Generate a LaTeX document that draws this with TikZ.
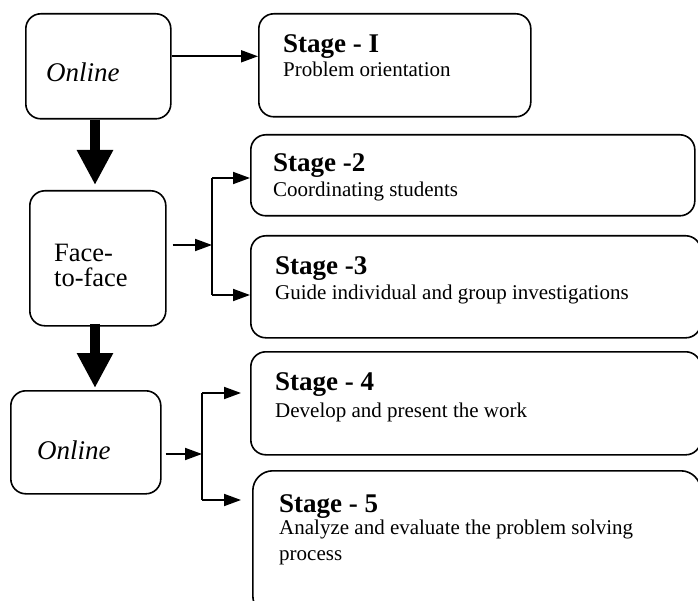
\documentclass[tikz,border=0pt]{standalone}
\usepackage{fontspec}
\setmainfont{Liberation Serif}
\usepackage{tikz}
\usetikzlibrary{arrows.meta}
\tikzset{
  modebox/.style={draw=black,line width=1.6pt,rounded corners=15pt,anchor=north west,inner sep=0pt},
  stagebox/.style={draw=black,line width=1.6pt,rounded corners=15pt,anchor=north west,inner sep=0pt},
  modetxt/.style={anchor=base west,inner sep=0pt,font=\fontsize{26.5}{26}\selectfont},
  stagehead/.style={anchor=base west,inner sep=0pt,font=\fontsize{27}{30}\selectfont\bfseries},
  stagetxt/.style={anchor=base west,inner sep=0pt,font=\fontsize{21}{26}\selectfont},
}
\tikzset{link/.style={draw=black,line width=1.8pt,-{Triangle[length=17pt,width=12pt]}},
  bigarrow/.style={draw=black,line width=10pt,-{Triangle[length=35pt,width=34pt]}}}

\begin{document}
\begin{tikzpicture}[x=1pt,y=-1pt]
\useasboundingbox (0,0) rectangle (698,601);
\node[modebox,minimum width=145pt,minimum height=105pt] (on1) at (25,13) {};
\node[modebox,minimum width=136pt,minimum height=135pt] (ff) at (29,190) {};
\node[modebox,minimum width=150pt,minimum height=103pt] (on2) at (10,390) {};
\node[stagebox,minimum width=272pt,minimum height=103pt] (s1) at (258,13) {};
\node[stagebox,minimum width=444pt,minimum height=81pt] (s2) at (250,134) {};
\node[stagebox,minimum width=450pt,minimum height=102pt] (s3) at (250,235) {};
\node[stagebox,minimum width=450pt,minimum height=103pt] (s4) at (250,351) {};
\node[stagebox,rounded corners=20pt,minimum width=448pt,minimum height=145pt] (s5) at (252,470) {};
\node[modetxt,font=\fontsize{27}{26}\selectfont\itshape] (on1t) at (46,82) {Online};
\node[modetxt] (fft1) at (54,262) {Face-};
\node[modetxt] (fft2) at (54,287) {to-face};
\node[modetxt,font=\fontsize{27}{26}\selectfont\itshape] (on2t) at (37,459) {Online};
\node[stagehead] (s1h) at (283,53) {Stage - I};
\node[stagetxt] (s1t) at (283,77) {Problem orientation};
\node[stagehead] (s2h) at (273,172) {Stage -2};
\node[stagetxt] (s2t) at (273,197) {Coordinating students};
\node[stagehead] (s3h) at (275,275) {Stage -3};
\node[stagetxt] (s3t) at (275,300) {Guide individual and group investigations};
\node[stagehead] (s4h) at (275,390) {Stage - 4};
\node[stagetxt] (s4t) at (275,417) {Develop and present the work};
\node[stagehead] (s5h) at (279,512) {Stage - 5};
\node[stagetxt] (s5t) at (279,534) {Analyze and evaluate the problem solving};
\node[stagetxt] (s5u) at (279,560) {process};
\coordinate (ax) at (95,0);
\coordinate (j1) at (212,245);
\coordinate (b1) at (212,178);
\coordinate (b2) at (212,295);
\coordinate (j2) at (202,454);
\coordinate (b3) at (202,393);
\coordinate (b4) at (202,500);
\draw[bigarrow] (on1.south -| ax) -- ([yshift=5pt]ff.north -| ax);
\draw[bigarrow] ([yshift=3pt]ff.south -| ax) -- ([yshift=2pt]on2.north -| ax);
\draw[link] ([yshift=10pt]on1.east) -- ([yshift=10pt]on1.east -| s1.west);
\draw[link] ([xshift=6pt]ff.east |- j1) -- (j1);
\draw[line width=1.8pt] (b1) -- (b2);
\draw[link] (b1) -- (b1 -| s2.west);
\draw[link] (b2) -- (b2 -| s3.west);
\draw[link] ([xshift=4pt]on2.east |- j2) -- (j2);
\draw[line width=1.8pt] (b3) -- (b4);
\draw[link,shorten >=9pt] (b3) -- (b3 -| s4.west);
\draw[link,shorten >=11pt] (b4) -- (b4 -| s5.west);
\end{tikzpicture}
\end{document}
